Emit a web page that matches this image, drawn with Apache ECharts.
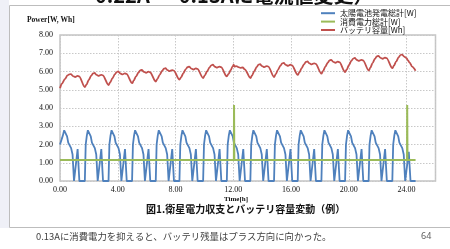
<!DOCTYPE html>
<html>
<head>
<meta charset="utf-8">
<script src="https://cdn.jsdelivr.net/npm/echarts@6/dist/echarts.min.js"></script>
<style>html,body{margin:0;padding:0;background:#fff;}#c{width:450px;height:249px;}</style>
</head>
<body>
<div id="c"></div>
<script>
// ---- data ----
const seriesNames = ['太陽電池発電総計[W]', '消費電力総計[W]', 'バッテリ容量[Wh]'];
const xTickLabels = ['0.00', '4.00', '8.00', '12.00', '16.00', '20.00', '24.00'];
const yTickLabels = ['0.00', '1.00', '2.00', '3.00', '4.00', '5.00', '6.00', '7.00', '8.00'];

// [time h, W]
const solarPower = [
  [0,2.0],[0.2,2.5],[0.29,2.78],[0.35,2.85],[0.41,2.75],[0.49,2.45],[0.57,2.1],[0.65,2.0],[0.77,1.8],[0.87,1.45],[0.97,0],[1.07,0],[1.22,1.75],[1.34,0],
  [1.72,0],[1.78,2.0],[1.86,2.5],[1.93,2.78],[1.99,2.85],[2.05,2.75],[2.13,2.45],[2.21,2.1],[2.29,2.0],[2.41,1.8],[2.51,1.45],[2.61,0],[2.71,0],[2.86,1.75],[2.98,0],
  [3.36,0],[3.42,2.0],[3.50,2.5],[3.57,2.78],[3.63,2.85],[3.69,2.75],[3.77,2.45],[3.85,2.1],[3.93,2.0],[4.05,1.8],[4.15,1.45],[4.25,0],[4.35,0],[4.50,1.75],[4.62,0],
  [4.99,0],[5.05,2.0],[5.13,2.5],[5.20,2.78],[5.26,2.85],[5.32,2.75],[5.40,2.45],[5.48,2.1],[5.56,2.0],[5.68,1.8],[5.78,1.45],[5.88,0],[5.98,0],[6.13,1.75],[6.25,0],
  [6.63,0],[6.69,2.0],[6.77,2.5],[6.84,2.78],[6.90,2.85],[6.96,2.75],[7.04,2.45],[7.12,2.1],[7.20,2.0],[7.32,1.8],[7.42,1.45],[7.52,0],[7.62,0],[7.77,1.75],[7.89,0],
  [8.27,0],[8.33,2.0],[8.41,2.5],[8.48,2.78],[8.54,2.85],[8.60,2.75],[8.68,2.45],[8.76,2.1],[8.84,2.0],[8.96,1.8],[9.06,1.45],[9.16,0],[9.26,0],[9.41,1.75],[9.53,0],
  [9.91,0],[9.97,2.0],[10.05,2.5],[10.12,2.78],[10.18,2.85],[10.24,2.75],[10.32,2.45],[10.40,2.1],[10.48,2.0],[10.60,1.8],[10.70,1.45],[10.80,0],[10.90,0],[11.05,1.75],[11.17,0],
  [11.55,0],[11.61,2.0],[11.69,2.5],[11.76,2.78],[11.82,2.85],[11.88,2.75],[11.96,2.45],[12.04,2.1],[12.12,2.0],[12.24,1.8],[12.34,1.45],[12.44,0],[12.54,0],[12.69,1.75],[12.81,0],
  [13.18,0],[13.24,2.0],[13.32,2.5],[13.39,2.78],[13.45,2.85],[13.51,2.75],[13.59,2.45],[13.67,2.1],[13.75,2.0],[13.87,1.8],[13.97,1.45],[14.07,0],[14.17,0],[14.32,1.75],[14.44,0],
  [14.82,0],[14.88,2.0],[14.96,2.5],[15.03,2.78],[15.09,2.85],[15.15,2.75],[15.23,2.45],[15.31,2.1],[15.39,2.0],[15.51,1.8],[15.61,1.45],[15.71,0],[15.81,0],[15.96,1.75],[16.08,0],
  [16.46,0],[16.52,2.0],[16.60,2.5],[16.67,2.78],[16.73,2.85],[16.79,2.75],[16.87,2.45],[16.95,2.1],[17.03,2.0],[17.15,1.8],[17.25,1.45],[17.35,0],[17.45,0],[17.60,1.75],[17.72,0],
  [18.10,0],[18.16,2.0],[18.24,2.5],[18.31,2.78],[18.37,2.85],[18.43,2.75],[18.51,2.45],[18.59,2.1],[18.67,2.0],[18.79,1.8],[18.89,1.45],[18.99,0],[19.09,0],[19.24,1.75],[19.36,0],
  [19.74,0],[19.80,2.0],[19.88,2.5],[19.95,2.78],[20.01,2.85],[20.07,2.75],[20.15,2.45],[20.23,2.1],[20.31,2.0],[20.43,1.8],[20.53,1.45],[20.63,0],[20.73,0],[20.88,1.75],[21.00,0],
  [21.37,0],[21.43,2.0],[21.51,2.5],[21.58,2.78],[21.64,2.85],[21.70,2.75],[21.78,2.45],[21.86,2.1],[21.94,2.0],[22.06,1.8],[22.16,1.45],[22.26,0],[22.36,0],[22.51,1.75],[22.63,0],
  [23.01,0],[23.07,2.0],[23.15,2.5],[23.22,2.78],[23.28,2.85],[23.34,2.75],[23.42,2.45],[23.50,2.1],[23.58,2.0],[23.70,1.8],[23.80,1.45],[23.90,0],[24.00,0],[24.15,1.6],[24.27,0],
  [24.62,0]
];

// [time h, W]
const consumptionPower = [
  [0,1.15],[12.04,1.15],[12.05,4.16],[12.07,1.15],[24.03,1.15],[24.04,4.16],[24.06,1.15],[24.62,1.15]
];

// [time h, Wh]
const batteryCapacity = [
  [0,5.08],[0.12,5.32],[0.35,5.6],[0.52,5.79],[0.64,5.84],[0.75,5.86],[0.90,5.75],[1.05,5.70],[1.21,5.76],[1.32,5.73],
  [1.72,5.15],[1.84,5.30],[1.99,5.54],[2.16,5.77],[2.28,5.89],[2.39,5.92],[2.54,5.81],[2.69,5.76],[2.85,5.82],[2.96,5.79],
  [3.36,5.26],[3.48,5.41],[3.63,5.63],[3.80,5.85],[3.92,5.97],[4.03,6.00],[4.18,5.89],[4.33,5.84],[4.49,5.90],[4.60,5.87],
  [5.00,5.36],[5.11,5.51],[5.26,5.73],[5.43,5.94],[5.55,6.06],[5.66,6.09],[5.81,5.98],[5.96,5.93],[6.12,5.99],[6.23,5.96],
  [6.63,5.45],[6.75,5.60],[6.90,5.82],[7.07,6.03],[7.19,6.15],[7.30,6.18],[7.45,6.07],[7.60,6.02],[7.76,6.08],[7.87,6.05],
  [8.27,5.55],[8.39,5.69],[8.54,5.91],[8.71,6.13],[8.83,6.24],[8.94,6.27],[9.09,6.16],[9.24,6.11],[9.40,6.17],[9.51,6.14],
  [9.91,5.64],[10.03,5.79],[10.18,6.00],[10.35,6.22],[10.47,6.34],[10.58,6.37],[10.73,6.26],[10.88,6.21],[11.04,6.27],[11.15,6.24],
  [11.55,5.73],[11.67,5.87],[11.82,6.07],[11.95,6.28],[12.03,6.37],[12.07,6.27],[12.2,6.30],[12.35,6.24],[12.5,6.20],[12.65,6.22],[12.79,6.12],
  [13.19,5.64],[13.30,5.79],[13.45,6.02],[13.62,6.25],[13.74,6.37],[13.85,6.40],[14.00,6.29],[14.15,6.24],[14.31,6.30],[14.42,6.27],
  [14.82,5.70],[14.94,5.85],[15.09,6.09],[15.26,6.32],[15.38,6.44],[15.49,6.47],[15.64,6.36],[15.79,6.31],[15.95,6.37],[16.06,6.34],
  [16.46,5.81],[16.58,5.96],[16.73,6.18],[16.90,6.40],[17.02,6.52],[17.13,6.55],[17.28,6.44],[17.43,6.39],[17.59,6.45],[17.70,6.42],
  [18.10,5.88],[18.22,6.03],[18.37,6.26],[18.54,6.49],[18.66,6.61],[18.77,6.64],[18.92,6.53],[19.07,6.48],[19.23,6.54],[19.34,6.51],
  [19.74,5.97],[19.86,6.12],[20.01,6.36],[20.18,6.59],[20.30,6.71],[20.41,6.74],[20.56,6.63],[20.71,6.58],[20.87,6.64],[20.98,6.61],
  [21.38,6.05],[21.49,6.21],[21.64,6.46],[21.81,6.70],[21.93,6.83],[22.04,6.86],[22.19,6.75],[22.34,6.70],[22.50,6.76],[22.61,6.73],
  [23.01,6.18],[23.13,6.33],[23.28,6.56],[23.45,6.78],[23.57,6.90],[23.68,6.93],[23.83,6.82],[24.0,6.73],[24.08,6.62],[24.2,6.50],[24.38,6.27],[24.62,6.04]
];

// ---- chart ----
const chart = echarts.init(document.getElementById('c'), null, {renderer: 'canvas'});
const serif = 'Liberation Serif';
const jp = 'Noto Sans CJK JP';
const xLabelSet = {};
xTickLabels.forEach(s => { xLabelSet[parseFloat(s)] = s; });

chart.setOption({
  animation: false,
  backgroundColor: '#ffffff',
  grid: {left: 60, right: 14.5, top: 35, bottom: 68, show: true, borderColor: '#c4c4c4', borderWidth: 1.5, backgroundColor: '#fff'},
  legend: {
    orient: 'vertical', left: 321, top: 9, padding: 0, itemGap: 0,
    itemWidth: 14, itemHeight: 2, icon: 'rect',
    textStyle: {fontFamily: jp, fontSize: 8, color: '#111', lineHeight: 8.4, height: 8.4},
    data: seriesNames
  },
  xAxis: {
    type: 'value', min: 0, max: 26, interval: 4,
    axisLine: {show: false}, axisTick: {show: false},
    axisLabel: {fontFamily: serif, fontSize: 8, color: '#111', margin: 5,
      formatter: v => (xLabelSet[v] !== undefined ? xLabelSet[v] : '')},
    splitLine: {show: true, lineStyle: {color: '#c8c8c8', type: [1.5, 1.5], width: 1}}
  },
  yAxis: {
    type: 'value', min: 0, max: 8, interval: 1,
    axisLine: {show: false}, axisTick: {show: false},
    axisLabel: {fontFamily: serif, fontSize: 8, color: '#111', margin: 7,
      formatter: v => yTickLabels[Math.round(v)]},
    splitLine: {show: true, lineStyle: {color: '#c8c8c8', type: [1.5, 1.5], width: 1}}
  },
  series: [
    {name: seriesNames[0], type: 'line', data: solarPower, symbol: 'none', color: '#4f81bd', lineStyle: {width: 1.8, color: '#4f81bd'}},
    {name: seriesNames[1], type: 'line', data: consumptionPower, symbol: 'none', color: '#9bbb59', lineStyle: {width: 2, color: '#9bbb59'}},
    {name: seriesNames[2], type: 'line', data: batteryCapacity, symbol: 'none', smooth: 0.3, smoothMonotone: 'x', color: '#c0504d', lineStyle: {width: 1.8, color: '#c0504d'}}
  ],
  graphic: [
    {type: 'rect', z: -10, silent: true, shape: {x: 0, y: 0, width: 9, height: 228}, style: {fill: '#eff0f7'}},
    {type: 'rect', z: -9, silent: true, shape: {x: 9.5, y: 5.5, width: 450, height: 222}, style: {fill: 'none', stroke: '#bdbdbd', lineWidth: 1}},
    {type: 'text', left: 95, top: -15, style: {text: '0.22A → 0.13Aに電流値変更）', font: 'bold 20px "Noto Sans CJK JP"', fill: '#111'}},
    {type: 'text', left: 27, top: 16, style: {text: 'Power[W, Wh]', font: 'bold 7.5px "Liberation Serif"', fill: '#111'}},
    {type: 'text', left: 224, top: 196, style: {text: 'Time[h]', font: 'bold 7px "Liberation Serif"', fill: '#111'}},
    {type: 'text', left: 146, top: 204, style: {text: '図1.衛星電力収支とバッテリ容量変動（例）', font: 'bold 10px "Noto Sans CJK JP"', fill: '#111'}},
    {type: 'text', left: 36, top: 232, style: {text: '0.13Aに消費電力を抑えると、バッテリ残量はプラス方向に向かった。', font: '9.4px "Noto Sans CJK JP"', fill: '#404040'}},
    {type: 'text', left: 421, top: 232, style: {text: '64', font: '9px "Noto Sans"', fill: '#606060'}}
  ]
});
</script>
</body>
</html>
